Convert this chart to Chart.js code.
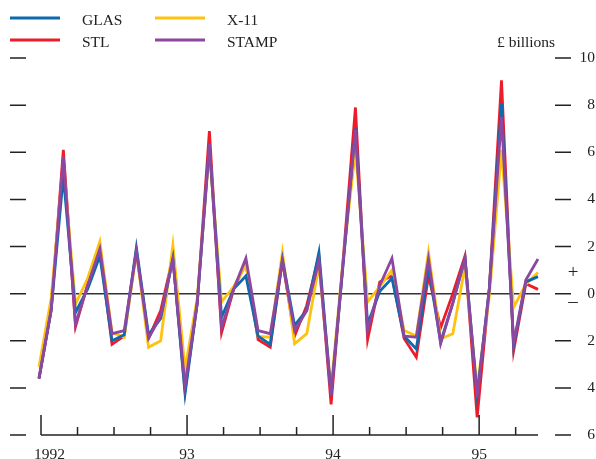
<!DOCTYPE html>
<html>
<head>
<meta charset="utf-8">
<script src="https://cdn.jsdelivr.net/npm/chart.js@4"></script>
<style>
  body { margin: 0; background: #fff; }
  #wrap { width: 596px; height: 459px; position: relative; }
</style>
</head>
<body>
<div id="wrap"><canvas id="chart"></canvas></div>
<script>
'use strict';

// monthly, Jan 1992 .. Jun 1995
const months = [];
for (let y = 1992; y <= 1995; y++) {
    for (let m = 1; m <= 12; m++) {
        if (y === 1995 && m > 6) break;
        months.push(y + '-' + m);
    }
}

const yearLabels = ['1992', '93', '94', '95'];
const yTicks = [-6, -4, -2, 0, 2, 4, 6, 8, 10];

const glas = [-3.6, -0.7, 5.0, -0.8, 0.2, 1.6, -2.0, -1.75, 1.95, -1.75, -1.05, 1.5,
    -4.25, -0.4, 6.3, -1.0, 0.2, 0.75, -1.8, -2.15, 1.45, -1.35, -0.7, 1.75,
    -4.3, 1.3, 7.0, -1.3, 0.1, 0.65, -1.8, -2.35, 1.1, -2.05, -0.4, 1.5,
    -4.3, 0.2, 8.05, -2.2, 0.5, 0.72];
const stl = [-3.6, -0.7, 6.1, -1.4, 0.4, 1.9, -2.15, -1.8, 1.8, -1.9, -0.72, 1.55,
    -4.1, -0.4, 6.9, -1.65, 0.2, 1.3, -1.95, -2.27, 1.4, -1.8, -0.5, 1.6,
    -4.7, 1.5, 7.9, -1.95, 0.5, 0.76, -1.9, -2.7, 0.76, -1.45, 0.0, 1.6,
    -5.25, 0.2, 9.05, -2.42, 0.42, 0.18];
const x11 = [-3.1, -0.2, 5.5, -0.45, 0.65, 2.2, -1.65, -1.85, 1.8, -2.28, -2.0, 2.05,
    -3.2, -0.2, 6.05, -0.35, 0.3, 1.2, -1.82, -1.85, 1.75, -2.13, -1.7, 1.2,
    -4.0, 1.5, 6.1, -0.35, 0.3, 1.0, -1.57, -1.8, 1.75, -1.92, -1.7, 1.15,
    -4.0, -0.1, 6.1, -0.58, 0.4, 0.9];
const stamp = [-3.6, -0.7, 5.8, -1.3, 0.35, 1.9, -1.7, -1.57, 1.8, -1.9, -0.95, 1.45,
    -3.9, -0.4, 6.35, -1.43, 0.2, 1.5, -1.57, -1.7, 1.4, -1.57, -0.72, 1.4,
    -4.32, 1.4, 6.95, -1.55, 0.35, 1.5, -1.8, -1.85, 1.47, -2.13, -0.4, 1.5,
    -4.4, 0.2, 7.5, -2.1, 0.58, 1.47];

const FONT = '15.5px "Liberation Serif", "DejaVu Serif", serif';
const INK = '#222';

function series(label, values, color, order) {
    return {
        label: label,
        data: values,
        borderColor: color,
        borderWidth: 2.8,
        borderJoinStyle: 'miter',
        pointRadius: 0,
        tension: 0,
        fill: false,
        clip: false,
        order: order
    };
}

// axes, ticks, zero line, legend and text are drawn by hand
const decorations = {
    id: 'decorations',
    beforeDatasetsDraw(chart) {
        const ctx = chart.ctx;
        const ys = chart.scales.y;
        ctx.save();

        // zero line
        const y0 = ys.getPixelForValue(0);
        ctx.strokeStyle = '#333';
        ctx.lineWidth = 1.5;
        ctx.beginPath();
        ctx.moveTo(50, y0);
        ctx.lineTo(540, y0);
        ctx.stroke();
        ctx.restore();
    },
    afterDraw(chart) {
        const ctx = chart.ctx;
        const xs = chart.scales.x;
        const ys = chart.scales.y;
        ctx.save();
        ctx.strokeStyle = INK;
        ctx.fillStyle = INK;
        ctx.lineWidth = 1.5;
        ctx.font = FONT;

        // x axis line
        const yb = ys.getPixelForValue(-6);
        ctx.beginPath();
        ctx.moveTo(xs.getPixelForValue(0) + 2, yb);
        ctx.lineTo(xs.getPixelForValue(months.length - 1), yb);
        ctx.stroke();

        // year and quarter ticks
        for (let i = 0; i < months.length; i += 3) {
            const px = xs.getPixelForValue(i) + 2;
            const tall = i % 12 === 0;
            ctx.beginPath();
            ctx.moveTo(px, yb);
            ctx.lineTo(px, tall ? yb - 20 : yb - 8);
            ctx.stroke();
            if (tall) {
                const lab = yearLabels[i / 12];
                ctx.textBaseline = 'alphabetic';
                if (i === 0) {
                    ctx.textAlign = 'left';
                    ctx.fillText(lab, px - 7, yb + 24);
                } else {
                    ctx.textAlign = 'center';
                    ctx.fillText(lab, px, yb + 24);
                }
            }
        }

        // y ticks both sides, labels on the right
        yTicks.forEach(v => {
            const py = ys.getPixelForValue(v);
            ctx.beginPath();
            ctx.moveTo(10, py);
            ctx.lineTo(26, py);
            ctx.moveTo(555, py);
            ctx.lineTo(571, py);
            ctx.stroke();
            ctx.textAlign = 'right';
            ctx.textBaseline = 'alphabetic';
            ctx.fillText(String(Math.abs(v)), 595, py + 4);
        });

        // sign markers either side of zero
        ctx.font = '19px "Liberation Serif", serif';
        ctx.textAlign = 'center';
        ctx.textBaseline = 'middle';
        ctx.fillText('+', 573, ys.getPixelForValue(0) - 21);
        ctx.fillText('\u2013', 573, ys.getPixelForValue(0) + 8);
        ctx.font = FONT;

        ctx.textAlign = 'left';
        ctx.textBaseline = 'alphabetic';
        ctx.fillText('£ billions', 497, 47);

        // legend, two columns
        chart.data.datasets.forEach((ds, i) => {
            const col = Math.floor(i / 2);
            const row = i % 2;
            const lx = 10 + col * 145;
            const ly = 18 + row * 22;
            ctx.strokeStyle = ds.borderColor;
            ctx.lineWidth = 3;
            ctx.beginPath();
            ctx.moveTo(lx, ly);
            ctx.lineTo(lx + 50, ly);
            ctx.stroke();
            ctx.fillStyle = INK;
            ctx.fillText(ds.label, lx + 72, ly + 7);
        });

        ctx.restore();
    }
};

new Chart(document.getElementById('chart'), {
    type: 'line',
    data: {
        labels: months,
        datasets: [
            series('GLAS', glas, '#0f69ad', 1),
            series('STL', stl, '#ec1c2a', 3),
            series('X-11', x11, '#ffc20e', 2),
            series('STAMP', stamp, '#8e47a1', 0)
        ]
    },
    options: {
        responsive: true,
        maintainAspectRatio: false,
        animation: false,
        devicePixelRatio: 1,
        layout: { padding: { left: 39, right: 58, top: 58, bottom: 24 } },
        plugins: {
            legend: { display: false },
            tooltip: { enabled: false }
        },
        scales: {
            x: { type: 'category', display: false, offset: false },
            y: { display: false, min: -6, max: 10 }
        }
    },
    plugins: [decorations]
});
</script>
</body>
</html>
